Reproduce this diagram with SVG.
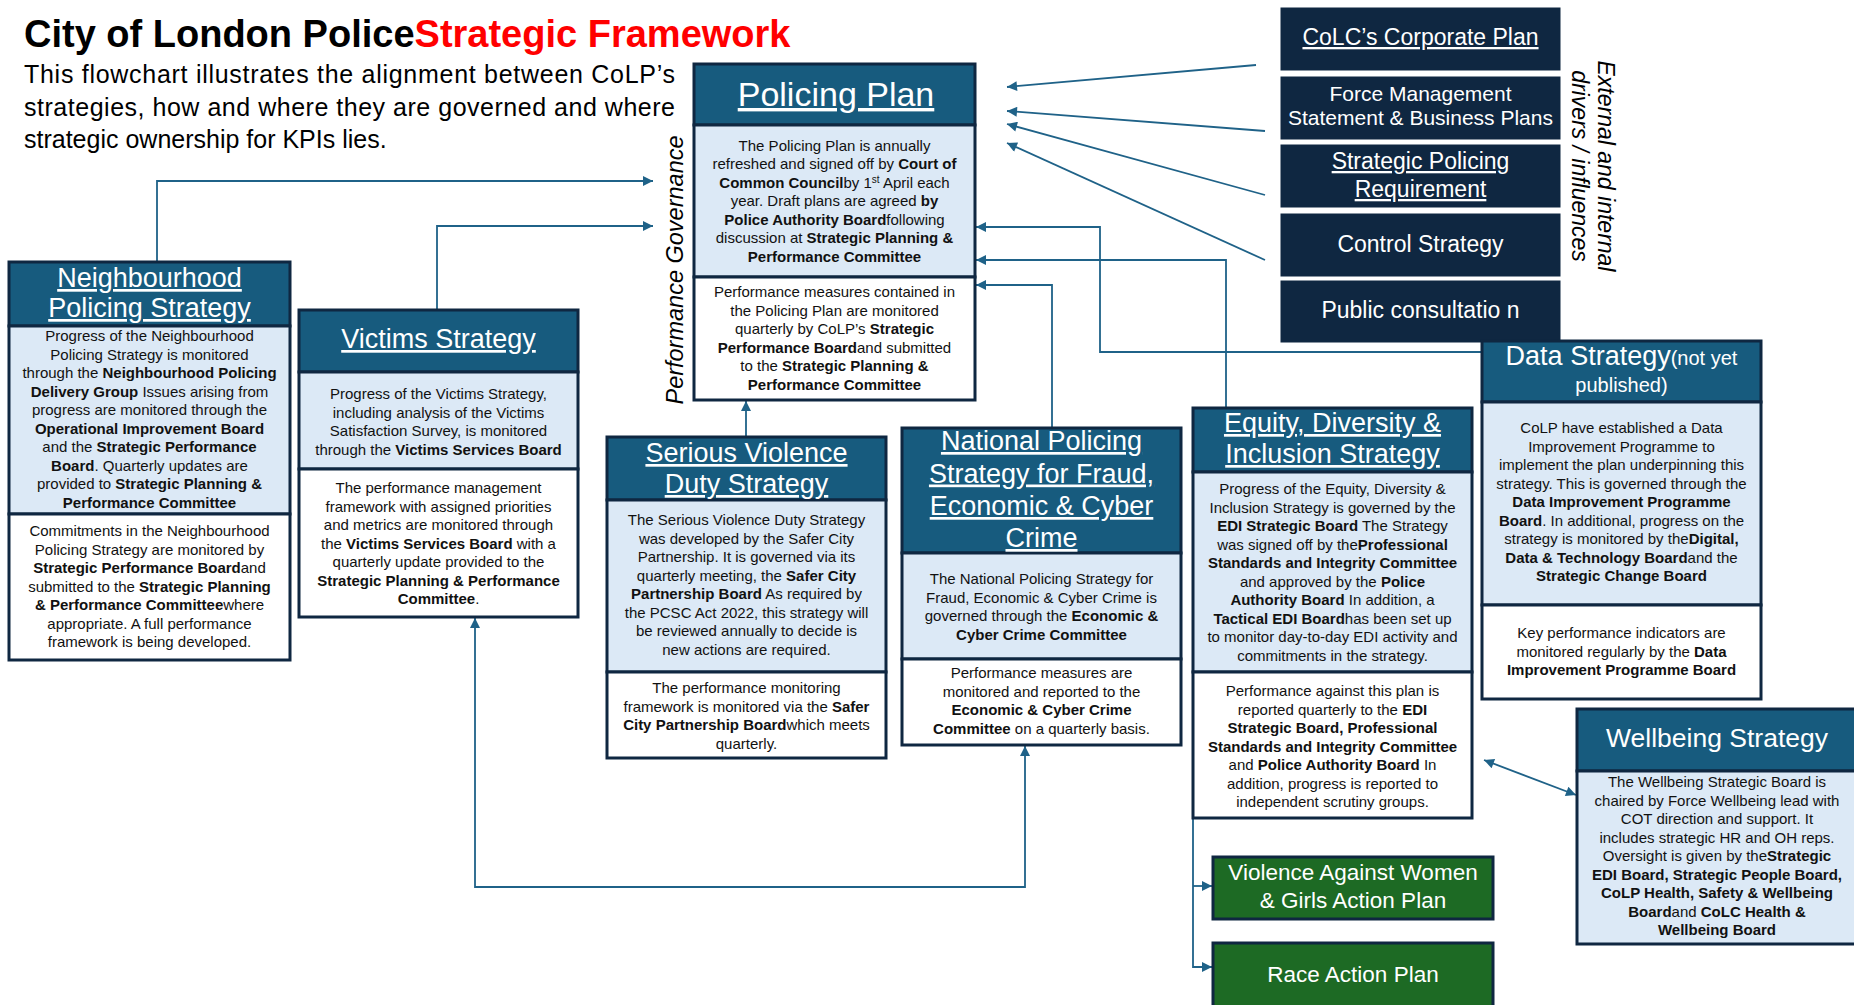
<svg xmlns="http://www.w3.org/2000/svg" width="1854" height="1005" viewBox="0 0 1854 1005">
<style>
text{font-family:"Liberation Sans",Arial,sans-serif;}
.hd{fill:#175b7e;stroke:#0f2741;stroke-width:3;}
.bl{fill:#dce9f6;stroke:#0f2741;stroke-width:3;}
.wh{fill:#ffffff;stroke:#0f2741;stroke-width:3;}
.ex{fill:#0f2741;stroke:#ffffff;stroke-width:1;}
.gr{fill:#1d6a24;stroke:#0f2741;stroke-width:3;}
.h{fill:#fff;font-size:27px;text-anchor:middle;}
.u{text-decoration:underline;}
.e{fill:#fff;font-size:23px;text-anchor:middle;}
.t{fill:#111;font-size:15px;text-anchor:middle;}
.b{font-weight:bold;}
.c{fill:none;stroke:#1f6288;stroke-width:1.8;}
.ca{fill:none;stroke:#1f6288;stroke-width:1.8;marker-end:url(#ah);}
.cb{fill:none;stroke:#1f6288;stroke-width:1.8;marker-end:url(#ah);marker-start:url(#ah);}
</style>
<defs>
<marker id="ah" viewBox="0 0 10 10" refX="10" refY="5" markerWidth="12" markerHeight="10" markerUnits="userSpaceOnUse" orient="auto-start-reverse"><path d="M0,0 L10,5 L0,10 z" fill="#1f6288"/></marker>
</defs>
<rect width="1854" height="1005" fill="#fff"/>

<g id="title">
<text x="24" y="47" style="font-size:38px" font-weight="bold" fill="#000">City of London Police<tspan fill="#ff0000">Strategic Framework</tspan></text>
<text x="24" y="83" style="font-size:25px" fill="#000" textLength="651" lengthAdjust="spacing">This flowchart illustrates the alignment between CoLP’s</text>
<text x="24" y="116" style="font-size:25px" fill="#000" textLength="651" lengthAdjust="spacing">strategies, how and where they are governed and where</text>
<text x="24" y="148" style="font-size:25px" fill="#000">strategic ownership for KPIs lies.</text>
</g>

<g id="label-governance">
<text transform="translate(683,270) rotate(-90)" style="font-size:23.5px" font-style="italic" fill="#000" text-anchor="middle">Performance  Governance</text>
</g>
<g id="label-external">
<text transform="translate(1598,166) rotate(90)" style="font-size:23px" font-style="italic" fill="#000" text-anchor="middle">External and internal</text>
<text transform="translate(1572,166) rotate(90)" style="font-size:23px" font-style="italic" fill="#000" text-anchor="middle">drivers / influences</text>
</g>

<g id="connectors">
<path class="ca" d="M157,262 V181 H653"/>
<path class="ca" d="M437,310 V226 H653"/>
<path class="ca" d="M746,437 V401"/>
<path class="ca" d="M1052,428 V285 H976"/>
<path class="ca" d="M1226,408 V260 H976"/>
<path class="ca" d="M1482,352 H1100 V227 H976"/>
<path class="ca" d="M1256,65 L1007,87"/>
<path class="ca" d="M1265,131 L1007,111"/>
<path class="ca" d="M1265,195 L1007,124"/>
<path class="ca" d="M1265,260 L1007,143"/>
<path class="cb" d="M475,618 V887 H1025 V746"/>
<path class="ca" d="M1193,819 V967 H1212"/>
<path class="ca" d="M1193,886 H1212"/>
<path class="cb" d="M1484,760 L1576,795"/>
</g>

<g id="policing-plan">
<rect class="hd" x="694" y="64" width="281" height="61"/>
<rect class="bl" x="694" y="125" width="281" height="152"/>
<rect class="wh" x="694" y="277" width="281" height="123"/>
<text class="h u" x="836" y="106" style="font-size:34px">Policing Plan</text>
<text class="t" x="834.5" y="150.5">The Policing Plan is annually</text>
<text class="t" x="834.5" y="169">refreshed and signed off by <tspan class="b">Court of</tspan></text>
<text class="t" x="834.5" y="187.5"><tspan class="b">Common Council</tspan>by 1<tspan style="font-size:10px" dy="-5">st</tspan><tspan dy="5"> April each</tspan></text>
<text class="t" x="834.5" y="206">year. Draft plans are agreed <tspan class="b">by</tspan></text>
<text class="t" x="834.5" y="224.5"><tspan class="b">Police Authority Board</tspan>following</text>
<text class="t" x="834.5" y="243">discussion at <tspan class="b">Strategic Planning &amp;</tspan></text>
<text class="t b" x="834.5" y="261.5">Performance Committee</text>
<text class="t" x="834.5" y="297">Performance measures contained in</text>
<text class="t" x="834.5" y="315.5">the Policing Plan are monitored</text>
<text class="t" x="834.5" y="334">quarterly by CoLP’s <tspan class="b">Strategic</tspan></text>
<text class="t" x="834.5" y="352.5"><tspan class="b">Performance Board</tspan>and submitted</text>
<text class="t" x="834.5" y="371">to the <tspan class="b">Strategic Planning &amp;</tspan></text>
<text class="t b" x="834.5" y="389.5">Performance Committee</text>
</g>

<g id="ext-corporate-plan">
<rect class="ex" x="1280" y="7" width="281" height="64"/>
<text class="e u" x="1420.5" y="45">CoLC’s Corporate Plan</text>
</g>
<g id="ext-force-management">
<rect class="ex" x="1280" y="76" width="281" height="64"/>
<text class="e" x="1420.5" y="101" style="font-size:21px">Force Management</text>
<text class="e" x="1420.5" y="125" style="font-size:21px">Statement &amp; Business Plans</text>
</g>
<g id="ext-spr">
<rect class="ex" x="1280" y="144" width="281" height="64"/>
<text class="e u" x="1420.5" y="169">Strategic Policing</text>
<text class="e u" x="1420.5" y="197">Requirement</text>
</g>
<g id="ext-control-strategy">
<rect class="ex" x="1280" y="213" width="281" height="64"/>
<text class="e" x="1420.5" y="252">Control Strategy</text>
</g>
<g id="ext-public-consultation">
<rect class="ex" x="1280" y="280" width="281" height="63"/>
<text class="e" x="1420.5" y="318">Public consultatio n</text>
</g>

<g id="neighbourhood-policing">
<rect class="hd" x="9" y="262" width="281" height="64"/>
<rect class="bl" x="9" y="326" width="281" height="188"/>
<rect class="wh" x="9" y="514" width="281" height="146"/>
<text class="h u" x="149.5" y="287">Neighbourhood</text>
<text class="h u" x="149.5" y="317">Policing Strategy</text>
<text class="t" x="149.5" y="341">Progress of the Neighbourhood</text>
<text class="t" x="149.5" y="359.5">Policing Strategy is monitored</text>
<text class="t" x="149.5" y="378">through the <tspan class="b">Neighbourhood Policing</tspan></text>
<text class="t" x="149.5" y="396.5"><tspan class="b">Delivery Group</tspan> Issues arising from</text>
<text class="t" x="149.5" y="415">progress are monitored through the</text>
<text class="t b" x="149.5" y="433.5">Operational Improvement Board</text>
<text class="t" x="149.5" y="452">and the <tspan class="b">Strategic Performance</tspan></text>
<text class="t" x="149.5" y="470.5"><tspan class="b">Board</tspan>. Quarterly updates are</text>
<text class="t" x="149.5" y="489">provided to <tspan class="b">Strategic Planning &amp;</tspan></text>
<text class="t b" x="149.5" y="507.5">Performance Committee</text>
<text class="t" x="149.5" y="536">Commitments in the Neighbourhood</text>
<text class="t" x="149.5" y="554.5">Policing Strategy are monitored by</text>
<text class="t" x="149.5" y="573"><tspan class="b">Strategic Performance Board</tspan>and</text>
<text class="t" x="149.5" y="591.5">submitted to the <tspan class="b">Strategic Planning</tspan></text>
<text class="t" x="149.5" y="610"><tspan class="b">&amp; Performance Committee</tspan>where</text>
<text class="t" x="149.5" y="628.5">appropriate. A full performance</text>
<text class="t" x="149.5" y="647">framework is being developed.</text>
</g>

<g id="victims-strategy">
<rect class="hd" x="299" y="310" width="279" height="62"/>
<rect class="bl" x="299" y="372" width="279" height="97"/>
<rect class="wh" x="299" y="469" width="279" height="148"/>
<text class="h u" x="438.5" y="348">Victims Strategy</text>
<text class="t" x="438.5" y="399">Progress of the Victims Strategy,</text>
<text class="t" x="438.5" y="417.5">including analysis of the Victims</text>
<text class="t" x="438.5" y="436">Satisfaction Survey, is monitored</text>
<text class="t" x="438.5" y="454.5">through the <tspan class="b">Victims Services Board</tspan></text>
<text class="t" x="438.5" y="493">The performance management</text>
<text class="t" x="438.5" y="511.5">framework with assigned priorities</text>
<text class="t" x="438.5" y="530">and metrics are monitored through</text>
<text class="t" x="438.5" y="548.5">the <tspan class="b">Victims Services Board</tspan> with a</text>
<text class="t" x="438.5" y="567">quarterly update provided to the</text>
<text class="t b" x="438.5" y="585.5">Strategic Planning &amp; Performance</text>
<text class="t" x="438.5" y="604"><tspan class="b">Committee</tspan>.</text>
</g>

<g id="serious-violence">
<rect class="hd" x="607" y="437" width="279" height="63"/>
<rect class="bl" x="607" y="500" width="279" height="172"/>
<rect class="wh" x="607" y="672" width="279" height="86"/>
<text class="h u" x="746.5" y="462">Serious Violence</text>
<text class="h u" x="746.5" y="493">Duty Strategy</text>
<text class="t" x="746.5" y="525">The Serious Violence Duty Strategy</text>
<text class="t" x="746.5" y="543.5">was developed by the Safer City</text>
<text class="t" x="746.5" y="562">Partnership. It is governed via its</text>
<text class="t" x="746.5" y="580.5">quarterly meeting, the <tspan class="b">Safer City</tspan></text>
<text class="t" x="746.5" y="599"><tspan class="b">Partnership Board</tspan> As required by</text>
<text class="t" x="746.5" y="617.5">the PCSC Act 2022, this strategy will</text>
<text class="t" x="746.5" y="636">be reviewed annually to decide is</text>
<text class="t" x="746.5" y="654.5">new actions are required.</text>
<text class="t" x="746.5" y="693">The performance monitoring</text>
<text class="t" x="746.5" y="711.5">framework is monitored via the <tspan class="b">Safer</tspan></text>
<text class="t" x="746.5" y="730"><tspan class="b">City Partnership Board</tspan>which meets</text>
<text class="t" x="746.5" y="748.5">quarterly.</text>
</g>

<g id="national-policing-fraud">
<rect class="hd" x="902" y="428" width="279" height="125"/>
<rect class="bl" x="902" y="553" width="279" height="106"/>
<rect class="wh" x="902" y="659" width="279" height="86"/>
<text class="h u" x="1041.5" y="450">National Policing</text>
<text class="h u" x="1041.5" y="482.5">Strategy for Fraud,</text>
<text class="h u" x="1041.5" y="515">Economic &amp; Cyber</text>
<text class="h u" x="1041.5" y="547">Crime</text>
<text class="t" x="1041.5" y="584">The National Policing Strategy for</text>
<text class="t" x="1041.5" y="602.5">Fraud, Economic &amp; Cyber Crime is</text>
<text class="t" x="1041.5" y="621">governed through the <tspan class="b">Economic &amp;</tspan></text>
<text class="t b" x="1041.5" y="639.5">Cyber Crime Committee</text>
<text class="t" x="1041.5" y="678">Performance measures are</text>
<text class="t" x="1041.5" y="696.5">monitored and reported to the</text>
<text class="t b" x="1041.5" y="715">Economic &amp; Cyber Crime</text>
<text class="t" x="1041.5" y="733.5"><tspan class="b">Committee</tspan> on a quarterly basis.</text>
</g>

<g id="edi-strategy">
<rect class="hd" x="1193" y="408" width="279" height="64"/>
<rect class="bl" x="1193" y="472" width="279" height="200"/>
<rect class="wh" x="1193" y="672" width="279" height="146"/>
<text class="h u" x="1332.5" y="432">Equity, Diversity &amp;</text>
<text class="h u" x="1332.5" y="463">Inclusion Strategy</text>
<text class="t" x="1332.5" y="494">Progress of the Equity, Diversity &amp;</text>
<text class="t" x="1332.5" y="512.5">Inclusion Strategy is governed by the</text>
<text class="t" x="1332.5" y="531"><tspan class="b">EDI Strategic Board</tspan> The Strategy</text>
<text class="t" x="1332.5" y="549.5">was signed off by the<tspan class="b">Professional</tspan></text>
<text class="t b" x="1332.5" y="568">Standards and Integrity Committee</text>
<text class="t" x="1332.5" y="586.5">and approved by the <tspan class="b">Police</tspan></text>
<text class="t" x="1332.5" y="605"><tspan class="b">Authority Board</tspan> In addition, a</text>
<text class="t" x="1332.5" y="623.5"><tspan class="b">Tactical EDI Board</tspan>has been set up</text>
<text class="t" x="1332.5" y="642">to monitor day-to-day EDI activity and</text>
<text class="t" x="1332.5" y="660.5">commitments in the strategy.</text>
<text class="t" x="1332.5" y="696">Performance against this plan is</text>
<text class="t" x="1332.5" y="714.5">reported quarterly to the <tspan class="b">EDI</tspan></text>
<text class="t b" x="1332.5" y="733">Strategic Board, Professional</text>
<text class="t b" x="1332.5" y="751.5">Standards and Integrity Committee</text>
<text class="t" x="1332.5" y="770">and <tspan class="b">Police Authority Board</tspan> In</text>
<text class="t" x="1332.5" y="788.5">addition, progress is reported to</text>
<text class="t" x="1332.5" y="807">independent scrutiny groups.</text>
</g>

<g id="data-strategy">
<rect class="hd" x="1482" y="341" width="279" height="61"/>
<rect class="bl" x="1482" y="402" width="279" height="203"/>
<rect class="wh" x="1482" y="605" width="279" height="94"/>
<text class="h" x="1621.5" y="365">Data Strategy<tspan style="font-size:20px">(not yet</tspan></text>
<text class="h" x="1621.5" y="392" style="font-size:20px">published)</text>
<text class="t" x="1621.5" y="433">CoLP have established a Data</text>
<text class="t" x="1621.5" y="451.5">Improvement Programme to</text>
<text class="t" x="1621.5" y="470">implement the plan underpinning this</text>
<text class="t" x="1621.5" y="488.5">strategy. This is governed through the</text>
<text class="t b" x="1621.5" y="507">Data Improvement Programme</text>
<text class="t" x="1621.5" y="525.5"><tspan class="b">Board</tspan>. In additional, progress on the</text>
<text class="t" x="1621.5" y="544">strategy is monitored by the<tspan class="b">Digital,</tspan></text>
<text class="t" x="1621.5" y="562.5"><tspan class="b">Data &amp; Technology Board</tspan>and the</text>
<text class="t b" x="1621.5" y="581">Strategic Change Board</text>
<text class="t" x="1621.5" y="638">Key performance indicators are</text>
<text class="t" x="1621.5" y="656.5">monitored regularly by the <tspan class="b">Data</tspan></text>
<text class="t b" x="1621.5" y="675">Improvement Programme Board</text>
</g>

<g id="wellbeing-strategy">
<rect class="hd" x="1577" y="709" width="281" height="62"/>
<rect class="bl" x="1577" y="771" width="281" height="173"/>
<text class="h" x="1717" y="747" style="font-size:26.5px">Wellbeing Strategy</text>
<text class="t" x="1717" y="787">The Wellbeing Strategic Board is</text>
<text class="t" x="1717" y="805.5">chaired by Force Wellbeing lead with</text>
<text class="t" x="1717" y="824">COT direction and support. It</text>
<text class="t" x="1717" y="842.5">includes strategic HR and OH reps.</text>
<text class="t" x="1717" y="861">Oversight is given by the<tspan class="b">Strategic</tspan></text>
<text class="t b" x="1717" y="879.5">EDI Board, Strategic People Board,</text>
<text class="t b" x="1717" y="898">CoLP Health, Safety &amp; Wellbeing</text>
<text class="t" x="1717" y="916.5"><tspan class="b">Board</tspan>and <tspan class="b">CoLC Health &amp;</tspan></text>
<text class="t b" x="1717" y="935">Wellbeing Board</text>
</g>

<g id="vawg-plan">
<rect class="gr" x="1213" y="857" width="280" height="62"/>
<text class="h" x="1353" y="880" style="font-size:22.5px">Violence Against Women</text>
<text class="h" x="1353" y="908" style="font-size:22.5px">&amp; Girls Action Plan</text>
</g>
<g id="race-plan">
<rect class="gr" x="1213" y="943" width="280" height="70"/>
<text class="h" x="1353" y="982" style="font-size:22.5px">Race Action Plan</text>
</g>
</svg>
